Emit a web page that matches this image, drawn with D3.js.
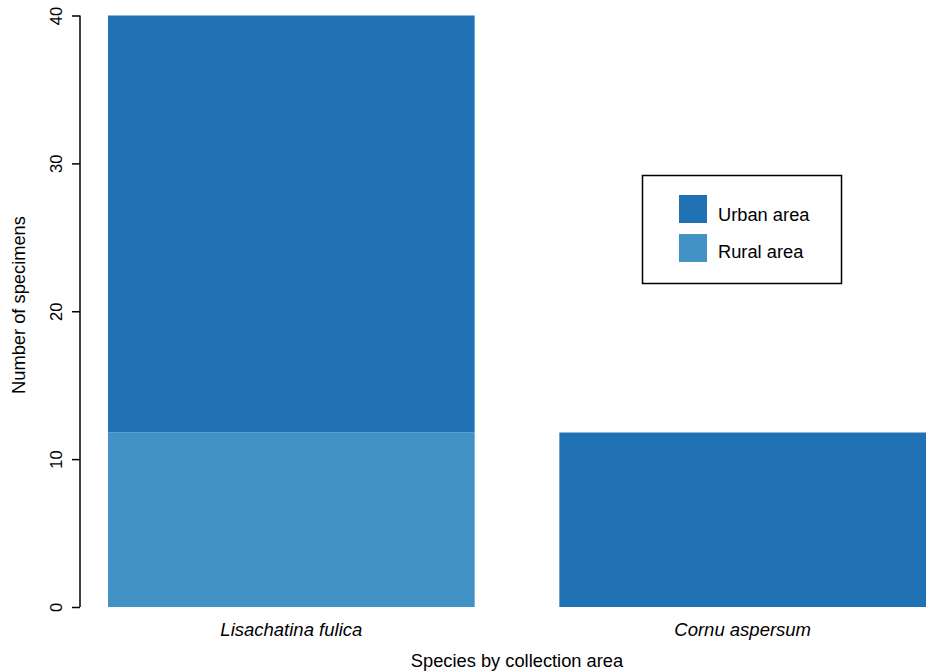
<!DOCTYPE html>
<html>
<head>
<meta charset="utf-8">
<script src="https://cdn.jsdelivr.net/npm/d3@7"></script>
<style>
  body { margin: 0; background: #fff; }
  text { font-family: "Liberation Sans", Arial, Helvetica, sans-serif; fill: #000; }
</style>
</head>
<body>
<svg id="chart" width="932" height="672"></svg>
<script>
const species = ["Lisachatina fulica", "Cornu aspersum"];
const areas = ["Rural area", "Urban area"];
const ruralValues = [11.8, 0];
const urbanValues = [28.2, 11.8];
const yTicks = [0, 10, 20, 30, 40];
const legendLabels = ["Urban area", "Rural area"];
const colors = { "Urban area": "#2171b5", "Rural area": "#4292c6" };

const svg = d3.select("#chart");
const y = d3.scaleLinear().domain([0, 40]).range([607, 15.5]);
const x = d3.scaleBand().domain(species).range([108, 926]).paddingInner(0.1876).paddingOuter(0);

const rows = species.map((s, i) => ({ species: s, "Rural area": ruralValues[i], "Urban area": urbanValues[i] }));
const stacked = d3.stack().keys(areas)(rows);

svg.append("g").selectAll("g").data(stacked).join("g")
  .attr("fill", d => colors[d.key])
  .selectAll("rect").data(d => d).join("rect")
  .attr("x", d => x(d.data.species))
  .attr("width", x.bandwidth())
  .attr("y", d => y(d[1]))
  .attr("height", d => y(d[0]) - y(d[1]));

// Y axis
const yAxis = svg.append("g").attr("transform", "translate(80,0)")
  .call(d3.axisLeft(y).tickValues(yTicks).tickSize(8).tickFormat(d3.format("d")));
yAxis.select(".domain").attr("stroke", "#000").attr("stroke-width", 1.5)
  .attr("d", `M0,${y(0)}V${y(40)}`);
yAxis.selectAll(".tick line").attr("stroke", "#000").attr("stroke-width", 1.5);
yAxis.selectAll(".tick text")
  .attr("font-size", 16.5)
  .attr("font-family", "Liberation Sans, Arial, sans-serif")
  .attr("fill", "#000")
  .attr("text-anchor", "middle")
  .attr("x", 0).attr("dy", 0).attr("y", 0)
  .attr("transform", "translate(-18,0) rotate(-90)");

// X category labels
svg.append("g").selectAll("text").data(species).join("text")
  .attr("x", d => x(d) + x.bandwidth() / 2)
  .attr("y", 636)
  .attr("text-anchor", "middle")
  .attr("font-size", 18.5)
  .attr("font-style", "italic")
  .text(d => d);

// Axis titles
svg.append("text")
  .attr("x", 517).attr("y", 667)
  .attr("text-anchor", "middle")
  .attr("font-size", 18.3)
  .text("Species by collection area");

svg.append("text")
  .attr("transform", `translate(25,${305}) rotate(-90)`)
  .attr("text-anchor", "middle")
  .attr("font-size", 18.3)
  .text("Number of specimens");

// Legend
const lg = svg.append("g");
lg.append("rect").attr("x", 642.5).attr("y", 175.5).attr("width", 199).attr("height", 108)
  .attr("fill", "#fff").attr("stroke", "#000").attr("stroke-width", 1.5);
legendLabels.forEach((lab, i) => {
  lg.append("rect").attr("x", 679).attr("y", 195 + i * 39).attr("width", 28).attr("height", 28)
    .attr("fill", colors[lab]);
  lg.append("text").attr("x", 718).attr("y", 221 + i * 36.5).attr("font-size", 18.3).text(lab);
});
</script>
</body>
</html>
